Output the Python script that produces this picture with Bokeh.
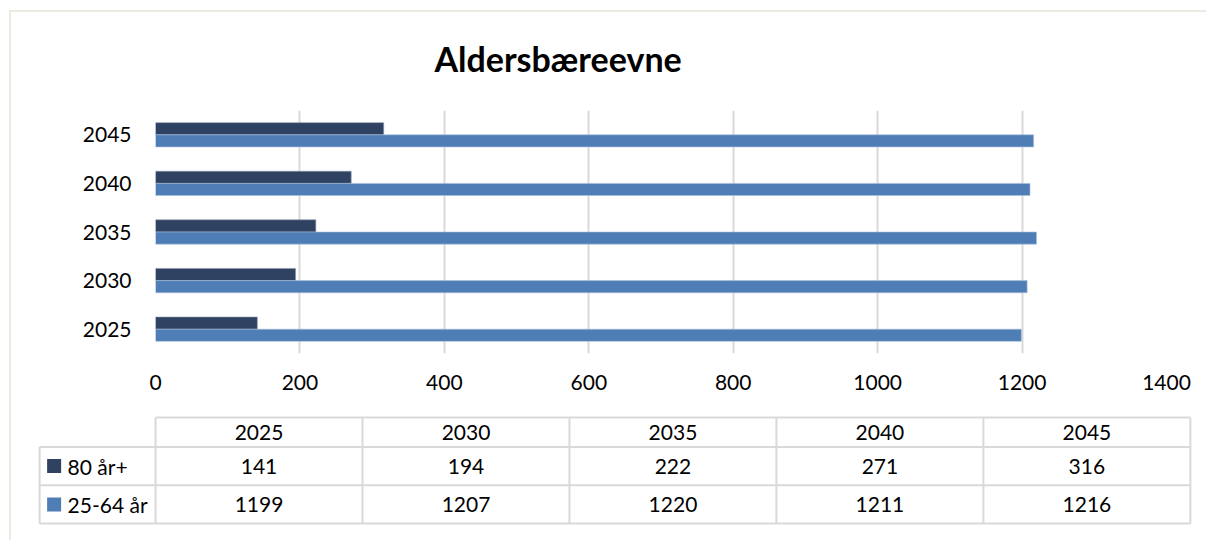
from bokeh.plotting import figure
from bokeh.models import FactorRange, Range1d, FixedTicker, ColumnDataSource
from bokeh.transform import dodge
from bokeh.core.properties import value
from bokeh.embed import file_html
from bokeh.resources import INLINE

# ---- data ----
years = ["2025", "2030", "2035", "2040", "2045"]
series_names = ["80 år+", "25-64 år"]
old_80 = [141, 194, 222, 271, 316]
work_25_64 = [1199, 1207, 1220, 1211, 1216]
x_ticks = [0, 200, 400, 600, 800, 1000, 1200, 1400]
title_text = "Aldersbæreevne"

DARK = "#2F4261"
LIGHT = "#4F7EB6"
GRID = "#D9D9D9"
FRAME = "#ECEAE1"
FONT = "Lato"
FS = "21px"

W = 1206
H1 = 410

# ---- chart ----
src = ColumnDataSource(dict(year=years, old=old_80, work=work_25_64))

p = figure(width=W, height=H1, y_range=FactorRange(factors=years, range_padding=0),
           x_range=Range1d(0, 1400), output_backend="svg", toolbar_location=None,
           min_border_left=155, min_border_right=40, min_border_top=110, min_border_bottom=57,
           title=title_text)
p.border_fill_color = None
p.background_fill_color = None
p.styles = {"background": (f"linear-gradient({FRAME},{FRAME}) 9px 10px / 1300px 2px no-repeat, "
                           f"linear-gradient({FRAME},{FRAME}) 9px 10px / 2px {H1}px no-repeat")}

p.hbar(y=dodge("year", 0.125, range=p.y_range), right="old", left=0, height=0.25,
       source=src, fill_color=DARK, line_color="#8a97ab", line_width=0.6)
p.hbar(y=dodge("year", -0.125, range=p.y_range), right="work", left=0, height=0.25,
       source=src, fill_color=LIGHT, line_color="#a9bfdc", line_width=0.6)

p.title.align = "left"
p.title.offset = 279
p.title.standoff = 64
p.title.text_font = FONT
p.title.text_font_style = "bold"
p.title.text_font_size = "34px"
p.title.text_color = "#000000"

p.xaxis.ticker = FixedTicker(ticks=x_ticks)
p.xaxis.axis_line_color = None
p.xaxis.major_tick_line_color = None
p.xaxis.major_tick_out = 0
p.xaxis.minor_tick_line_color = None
p.xaxis.major_label_standoff = 21
p.xaxis.major_label_text_font = FONT
p.xaxis.major_label_text_font_size = FS
p.xaxis.major_label_text_color = "#000000"

p.yaxis.axis_line_color = None
p.yaxis.major_tick_line_color = None
p.yaxis.major_tick_out = 0
p.yaxis.major_label_standoff = 24
p.yaxis.major_label_text_font = FONT
p.yaxis.major_label_text_font_size = FS
p.yaxis.major_label_text_color = "#000000"

p.xgrid.grid_line_color = GRID
p.xgrid.grid_line_width = 2
p.ygrid.grid_line_color = None
p.outline_line_color = None

# ---- data table ----
t = figure(width=W, height=130, x_range=Range1d(-0.58, 5.02), y_range=Range1d(-0.05, 2.82),
           output_backend="svg", toolbar_location=None,
           min_border_left=35, min_border_right=12, min_border_top=5, min_border_bottom=15)
t.border_fill_color = None
t.background_fill_color = None
t.styles = {"background": f"linear-gradient({FRAME},{FRAME}) 9px 0px / 2px 100% no-repeat"}
t.axis.visible = False
t.grid.visible = False
t.outline_line_color = None

n = len(years)
HEAD = 2.77
LEG = -0.56
# horizontal rules
t.segment(x0=[0] + [LEG] * 3, x1=[n] * 4, y0=[HEAD, 2, 1, 0], y1=[HEAD, 2, 1, 0],
          line_color=GRID, line_width=2)
# vertical rules
t.segment(x0=[LEG] + list(range(n + 1)), x1=[LEG] + list(range(n + 1)),
          y0=[0] * (n + 2), y1=[2] + [HEAD] * (n + 1), line_color=GRID, line_width=2)

cx = [i + 0.5 for i in range(n)]
t.text(x=cx, y=[(2 + HEAD) / 2] * n, text=years, text_align="center", text_baseline="middle",
       text_font=value(FONT), text_font_size=FS, text_color="#000000")
t.text(x=cx, y=[1.5] * n, text=[str(v) for v in old_80], text_align="center",
       text_baseline="middle", text_font=value(FONT), text_font_size=FS, text_color="#000000")
t.text(x=cx, y=[0.5] * n, text=[str(v) for v in work_25_64], text_align="center",
       text_baseline="middle", text_font=value(FONT), text_font_size=FS, text_color="#000000")
t.scatter(x=[-0.49, -0.49], y=[1.5, 0.5], marker="square", size=14,
          fill_color=[DARK, LIGHT], line_color=None)
t.text(x=[-0.425, -0.425], y=[1.5, 0.5], text=series_names, text_align="left",
       text_baseline="middle", text_font=value(FONT), text_font_size=FS, text_color="#000000")

open("out.html", "w").write(file_html([p, t], INLINE))
